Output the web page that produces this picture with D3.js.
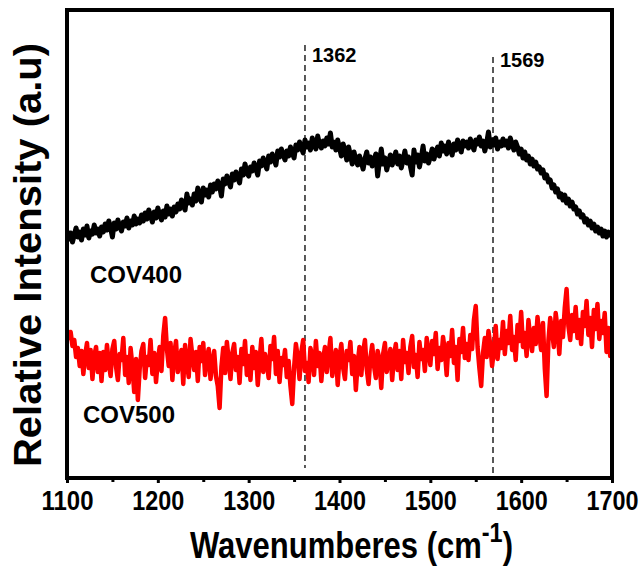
<!DOCTYPE html>
<html>
<head>
<meta charset="utf-8">
<script src="https://cdn.jsdelivr.net/npm/d3@7"></script>
<style>
  html, body { margin: 0; padding: 0; background: #fff; }
  svg { display: block; }
  text { font-family: "Liberation Sans", Arial, sans-serif; font-weight: bold; }
</style>
</head>
<body>
<svg id="chart" width="643" height="570"></svg>
<script>
// ---- data (wavenumber 1100..1700 step 2) ----
const waveStart = 1100, waveStep = 2;
const cov400 = [
  247, 239, 245, 236, 243, 250, 241, 246, 238, 249, 243, 252, 240, 247, 244, 253, 245, 249, 242, 251,
  246, 254, 248, 257, 250, 241, 255, 249, 258, 251, 247, 256, 252, 260, 250, 257, 253, 262, 254, 259,
  255, 263, 257, 265, 259, 268, 262, 256, 266, 260, 270, 263, 258, 267, 261, 272, 264, 269, 262, 271,
  266, 274, 269, 278, 272, 268, 284, 275, 279, 273, 284, 277, 290, 280, 276, 290, 283, 288, 281, 293,
  286, 294, 289, 297, 292, 282, 299, 294, 302, 296, 291, 304, 298, 306, 300, 295, 309, 303, 314, 305,
  302, 311, 307, 315, 309, 303, 317, 312, 320, 314, 309, 322, 316, 324, 319, 313, 327, 321, 329, 323,
  318, 327, 322, 331, 325, 320, 333, 328, 336, 330, 325, 338, 331, 335, 328, 340, 333, 329, 342, 334,
  330, 337, 332, 340, 334, 345, 331, 336, 328, 338, 330, 322, 334, 327, 318, 331, 323, 314, 326, 318,
  313, 322, 316, 309, 319, 326, 315, 321, 312, 318, 324, 302, 317, 329, 314, 320, 308, 316, 323, 313,
  319, 326, 314, 322, 310, 318, 327, 315, 321, 312, 303, 328, 316, 323, 311, 320, 332, 317, 324, 315,
  321, 329, 319, 326, 331, 322, 335, 327, 332, 324, 336, 329, 323, 334, 328, 338, 331, 326, 337, 332,
  336, 330, 339, 333, 328, 338, 334, 341, 332, 337, 327, 335, 346, 331, 338, 333, 340, 329, 336, 332,
  339, 333, 337, 330, 340, 334, 328, 336, 331, 324, 329, 320, 326, 318, 322, 314, 319, 312, 316, 309,
  311, 305, 308, 300, 303, 296, 298, 290, 293, 286, 289, 281, 284, 278, 283, 275, 279, 272, 276, 269,
  271, 264, 267, 261, 263, 256, 259, 253, 257, 250, 254, 247, 251, 245, 249, 242, 247, 241, 246, 243,
  245
];
const cov500 = [
  148, 140, 146, 132, 138, 121, 130, 112, 127, 104, 123, 135, 110, 128, 99, 122, 131, 106, 125, 97,
  126, 108, 133, 115, 102, 129, 137, 111, 98, 124, 118, 140, 103, 121, 95, 130, 112, 86, 119, 78,
  109, 127, 134, 100, 121, 113, 138, 104, 125, 96, 118, 131, 107, 142, 160, 129, 112, 135, 98, 124,
  137, 106, 119, 128, 94, 133, 115, 101, 139, 122, 108, 126, 97, 131, 117, 135, 103, 120, 129, 99,
  116, 127, 102, 92, 70, 111, 130, 105, 136, 118, 99, 125, 134, 108, 121, 95, 129, 114, 137, 103,
  122, 98, 131, 110, 126, 93, 118, 139, 106, 124, 115, 100, 132, 119, 141, 104, 127, 96, 120, 113,
  128, 101, 117, 92, 74, 110, 134, 121, 99, 126, 138, 107, 115, 96, 130, 122, 103, 137, 112, 125,
  97, 119, 131, 106, 124, 140, 102, 116, 128, 93, 121, 134, 110, 99, 127, 118, 136, 104, 122, 88,
  115, 131, 103, 126, 138, 109, 94, 120, 133, 112, 100, 127, 118, 90, 124, 135, 106, 117, 129, 98,
  122, 134, 108, 127, 99, 138, 116, 125, 105, 131, 142, 111, 123, 101, 136, 119, 128, 107, 140, 126,
  113, 137, 124, 145, 109, 130, 118, 141, 127, 103, 135, 122, 148, 115, 131, 98, 139, 126, 150, 120,
  134, 118, 143, 129, 158, 172, 131, 110, 92, 125, 140, 121, 147, 133, 112, 128, 152, 119, 138, 130,
  156, 124, 147, 135, 162, 128, 141, 118, 153, 137, 166, 131, 145, 122, 158, 140, 127, 150, 134, 161,
  143, 128, 155, 110, 82, 137, 160, 146, 131, 165, 150, 124, 157, 141, 170, 189, 152, 138, 163, 147,
  171, 140, 158, 134, 166, 152, 177, 143, 160, 131, 168, 149, 174, 139, 157, 145, 165, 126, 150, 122,
  140
];
const peaks = [1362, 1569];
const peakLabels = ["1362", "1569"];
const xTicks = [1100, 1200, 1300, 1400, 1500, 1600, 1700];
const xMinorTicks = [1150, 1250, 1350, 1450, 1550, 1650];
const seriesNames = ["COV400", "COV500"];

// ---- layout ----
const svg = d3.select("#chart");
const L = 67, R = 612, T = 10, B = 478;
const x = d3.scaleLinear().domain([1100, 1700]).range([L, R]);
const y = d3.scaleLinear().domain([0, 468]).range([B, T]);

const toPts = arr => arr.map((v, i) => [waveStart + i * waveStep, v]);
const line = d3.line().x(d => x(d[0])).y(d => y(d[1]));

svg.append("defs").append("clipPath").attr("id", "clip")
  .append("rect").attr("x", L).attr("y", T).attr("width", R - L).attr("height", B - T);

// dashed peak lines
const peakTop = [45, 57], peakBottom = [468, 477];
peaks.forEach((p, i) => {
  svg.append("line")
    .attr("x1", x(p)).attr("x2", x(p))
    .attr("y1", peakTop[i]).attr("y2", peakBottom[i])
    .attr("stroke", "#000").attr("stroke-width", 1.3)
    .attr("stroke-dasharray", "6,4");
});

// curves
const g = svg.append("g").attr("clip-path", "url(#clip)");
g.append("path").datum(toPts(cov500)).attr("d", line)
  .attr("fill", "none").attr("stroke", "#ff0000").attr("stroke-width", 4.5)
  .attr("stroke-linejoin", "round");
g.append("path").datum(toPts(cov400)).attr("d", line)
  .attr("fill", "none").attr("stroke", "#000").attr("stroke-width", 5)
  .attr("stroke-linejoin", "round");

// frame
svg.append("rect").attr("x", L).attr("y", T).attr("width", R - L).attr("height", B - T)
  .attr("fill", "none").attr("stroke", "#000").attr("stroke-width", 4);

// x axis
const xAxis = d3.axisBottom(x).tickValues(xTicks).tickSize(5).tickPadding(8).tickFormat(d3.format("d"));
const ax = svg.append("g").attr("transform", `translate(0,${B})`).call(xAxis);
ax.select(".domain").remove();
ax.selectAll(".tick line").attr("stroke", "#000").attr("stroke-width", 3);
ax.selectAll(".tick text")
  .attr("fill", "#000")
  .style("font-size", "27px")
  .style("font-family", "'Liberation Sans', Arial, sans-serif")
  .style("font-weight", "bold")
  .attr("textLength", 52).attr("lengthAdjust", "spacingAndGlyphs")
  .attr("dy", "0.71em");
const axMinor = svg.append("g").attr("transform", `translate(0,${B})`)
  .call(d3.axisBottom(x).tickValues(xMinorTicks).tickSize(4).tickFormat(""));
axMinor.select(".domain").remove();
axMinor.selectAll(".tick line").attr("stroke", "#000").attr("stroke-width", 3);

// peak labels
const peakLabelY = [62, 67];
peaks.forEach((p, i) => {
  svg.append("text").attr("x", x(p) + 7).attr("y", peakLabelY[i])
    .style("font-size", "20px").text(peakLabels[i]);
});

// series labels
svg.append("text").attr("x", 90).attr("y", 283).style("font-size", "24px").text(seriesNames[0]);
svg.append("text").attr("x", 83).attr("y", 423).style("font-size", "24px").text(seriesNames[1]);

// axis titles
const xt = svg.append("text").attr("x", 190).attr("y", 558)
  .style("font-size", "37px")
  .attr("textLength", 323).attr("lengthAdjust", "spacingAndGlyphs");
xt.append("tspan").text("Wavenumberes (cm");
xt.append("tspan").attr("dy", -16).style("font-size", "28px").text("-1");
xt.append("tspan").attr("dy", 16).text(")");

svg.append("text")
  .attr("transform", "translate(41,255) rotate(-90)")
  .attr("text-anchor", "middle")
  .style("font-size", "39px")
  .attr("textLength", 424).attr("lengthAdjust", "spacingAndGlyphs")
  .text("Relative Intensity (a.u)");
</script>
</body>
</html>
